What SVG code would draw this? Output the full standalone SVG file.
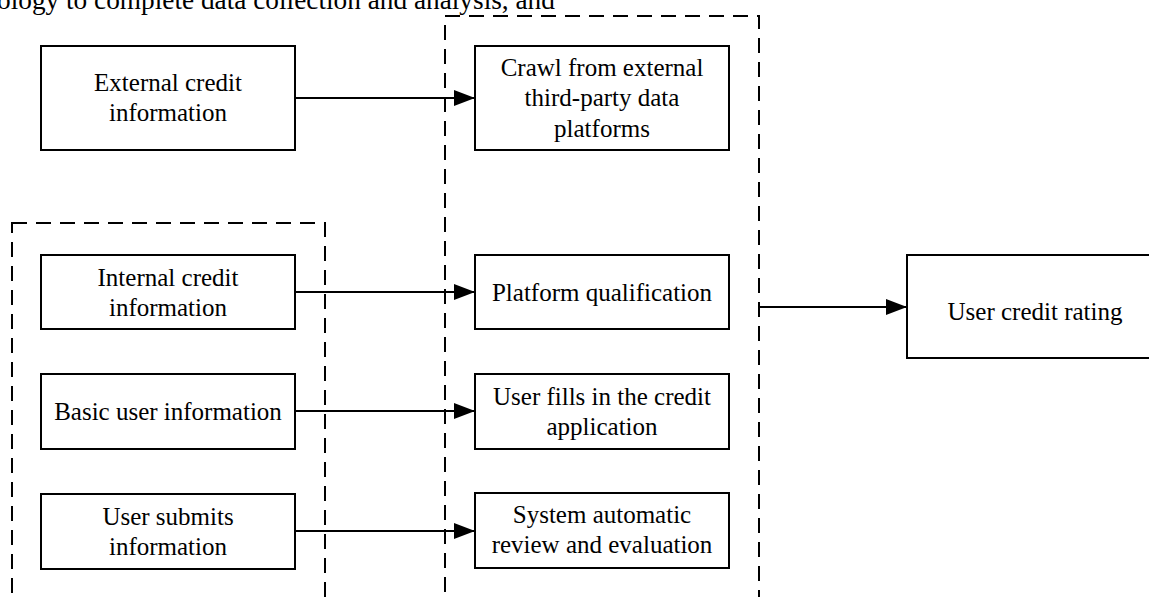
<svg xmlns="http://www.w3.org/2000/svg" width="1149" height="597" viewBox="0 0 1149 597">
<defs>
<style>
.box{fill:#fff;stroke:#000;stroke-width:2}
.grp{fill:none;stroke:#000;stroke-width:2;stroke-dasharray:15 9}
.t{font-family:"Liberation Serif","Times New Roman",serif;font-size:25px;fill:#000;text-anchor:middle}
.top{font-family:"Liberation Serif","Times New Roman",serif;font-size:27.3px;fill:#000}
.edge{fill:none;stroke:#000;stroke-width:2}
</style>
<marker id="arr" markerWidth="22" markerHeight="16" refX="21" refY="8" orient="auto" markerUnits="userSpaceOnUse">
<path d="M0,0 L21,8 L0,16 Z" fill="#000"/>
</marker>
</defs>
<rect width="1149" height="597" fill="#fff"/>
<text class="top" x="-3" y="9">ology to complete data collection and analysis, and</text>

<g id="groups">
<rect class="grp" x="12" y="223" width="313" height="400"/>
<rect class="grp" x="445" y="16" width="314" height="610"/>
</g>

<g id="n-external"><rect class="box" x="41" y="46" width="254" height="104"/>
<text class="t" x="168" y="91">External credit</text><text class="t" x="168" y="121">information</text></g>
<g id="n-internal"><rect class="box" x="41" y="255" width="254" height="74"/>
<text class="t" x="168" y="286">Internal credit</text><text class="t" x="168" y="316">information</text></g>
<g id="n-basic"><rect class="box" x="41" y="374" width="254" height="75"/>
<text class="t" x="168" y="420">Basic user information</text></g>
<g id="n-submits"><rect class="box" x="41" y="494" width="254" height="75"/>
<text class="t" x="168" y="525">User submits</text><text class="t" x="168" y="555">information</text></g>

<g id="n-crawl"><rect class="box" x="475" y="46" width="254" height="104"/>
<text class="t" x="602" y="76">Crawl from external</text><text class="t" x="602" y="106">third-party data</text><text class="t" x="602" y="137">platforms</text></g>
<g id="n-platform"><rect class="box" x="475" y="255" width="254" height="74"/>
<text class="t" x="602" y="301">Platform qualification</text></g>
<g id="n-fills"><rect class="box" x="475" y="374" width="254" height="75"/>
<text class="t" x="602" y="405">User fills in the credit</text><text class="t" x="602" y="435">application</text></g>
<g id="n-system"><rect class="box" x="475" y="493" width="254" height="75"/>
<text class="t" x="602" y="523">System automatic</text><text class="t" x="602" y="553">review and evaluation</text></g>

<g id="n-rating"><rect class="box" x="907" y="255" width="256" height="103"/>
<text class="t" x="1035" y="320">User credit rating</text></g>

<g id="connectors">
<line class="edge" x1="295" y1="98" x2="475" y2="98" marker-end="url(#arr)"/>
<line class="edge" x1="295" y1="292" x2="475" y2="292" marker-end="url(#arr)"/>
<line class="edge" x1="295" y1="411" x2="475" y2="411" marker-end="url(#arr)"/>
<line class="edge" x1="295" y1="531" x2="475" y2="531" marker-end="url(#arr)"/>
<line class="edge" x1="759" y1="307" x2="907" y2="307" marker-end="url(#arr)"/>
</g>
</svg>
